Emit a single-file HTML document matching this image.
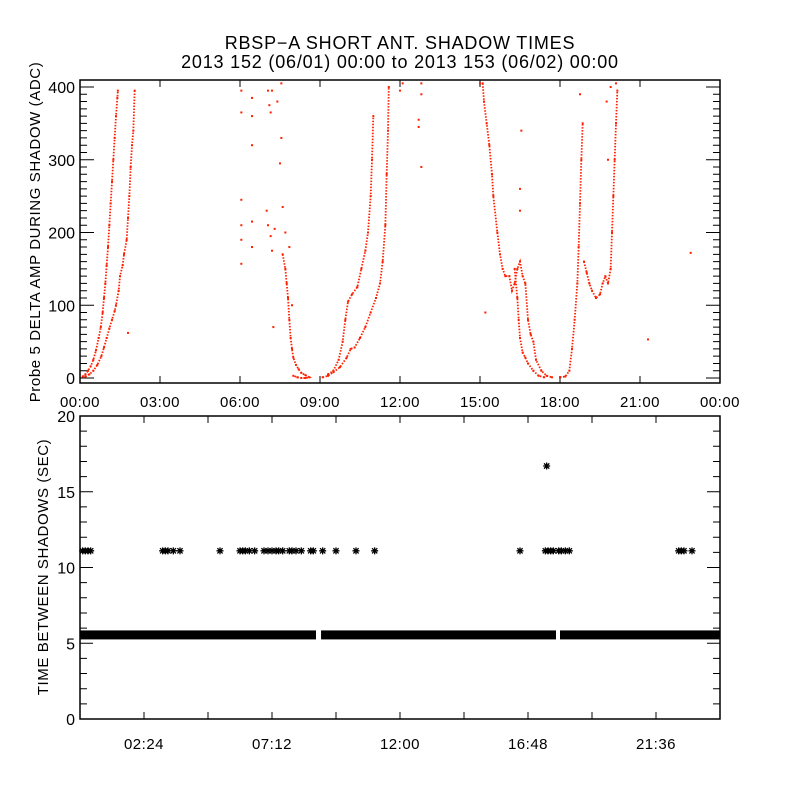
<!DOCTYPE html>
<html><head><meta charset="utf-8"><style>
html,body{margin:0;padding:0;background:#fff;}
svg{display:block;font-family:"Liberation Sans",sans-serif;}
</style></head><body>
<svg id="c" width="800" height="800" viewBox="0 0 800 800">
<rect width="800" height="800" fill="#fff"/>
<text x="400" y="49" font-size="18" letter-spacing="0.8" text-anchor="middle">RBSP−A SHORT ANT. SHADOW TIMES</text>
<text x="400" y="68" font-size="18" letter-spacing="0.8" text-anchor="middle">2013 152 (06/01) 00:00 to 2013 153 (06/02) 00:00</text>
<text transform="translate(40,232) rotate(-90)" font-size="15" letter-spacing="0.6" text-anchor="middle">Probe 5 DELTA AMP DURING SHADOW (ADC)</text>
<text transform="translate(48,567) rotate(-90)" font-size="15" letter-spacing="0.6" text-anchor="middle">TIME BETWEEN SHADOWS (SEC)</text>
<g id="topPanel"></g>
<g id="botPanel"></g>
</svg>
<script>
// ---- top chart data (hours, ADC) ----
const curveAHours=[0.1,0.2,0.3,0.4,0.5,0.6,0.7,0.78,0.85,0.9,0.95,1.0,1.05,1.1,1.15,1.2,1.25,1.3,1.35,1.4,1.42];
const curveAVals=[2,5,10,16,25,38,55,70,90,110,130,155,180,210,240,270,300,330,360,385,395];
const curveBHours=[0.2,0.35,0.5,0.65,0.8,0.9,1.0,1.1,1.2,1.3,1.35,1.45,1.5,1.6,1.65,1.75,1.8,1.85,1.9,1.95,2.0,2.05];
const curveBVals=[2,5,10,18,30,42,55,68,80,92,100,120,140,155,170,190,220,250,290,320,340,395];
const curveCHours=[7.6,7.7,7.75,7.8,7.85,7.9,7.95,8.0,8.1,8.2,8.3,8.45,8.6,8.45,8.3,8.15,8.0];
const curveCVals=[170,150,130,110,80,55,40,28,18,12,7,4,1,0,0,1,3];
const curveDHours=[9.1,9.3,9.5,9.75,10.0,10.15,10.3,10.5,10.7,10.9,11.1,11.25,11.35,11.45,11.5,11.55,11.58];
const curveDVals=[1,3,8,15,28,40,42,55,70,90,110,130,160,210,280,340,400];
const curveEHours=[9.3,9.5,9.7,9.85,9.95,10.05,10.2,10.4,10.55,10.7,10.8,10.9,10.95,11.0];
const curveEVals=[5,10,25,50,80,105,115,125,150,175,200,250,300,360];
const curveFHours=[15.1,15.15,15.25,15.35,15.45,15.5,15.65,15.75,15.85,15.95,16.1,16.2,16.3,16.4,16.5,16.6,16.7,16.8,16.9,17.0,17.1,17.3,17.5,17.7];
const curveFVals=[405,380,350,320,280,250,200,170,150,140,140,120,130,150,160,140,130,80,60,50,25,10,3,1];
const curveGHours=[16.3,16.4,16.45,16.5,16.6,16.7,16.8,17.0,17.2,17.4];
const curveGVals=[150,110,80,55,35,28,20,10,3,1];
const curveHHours=[18.0,18.2,18.35,18.45,18.55,18.65,18.7,18.75,18.8,18.85];
const curveHVals=[1,2,10,40,80,130,180,240,300,350];
const curveIHours=[18.9,19.0,19.1,19.2,19.35,19.5,19.6,19.7,19.8,19.9,19.95,20.0,20.05,20.1,20.15];
const curveIVals=[160,145,130,120,110,115,130,140,130,150,200,250,300,350,395];
const strayHours=[6.05,6.05,6.05,6.05,6.05,6.05,6.45,6.45,6.45,6.45,6.45,7.05,7.1,7.15,7.2,7.0,7.05,7.15,7.2,7.3,7.25,7.4,7.55,7.55,7.5,7.6,7.95,12.0,12.1,12.8,12.8,12.7,12.7,12.8,15.2,15.0,16.5,16.5,16.55,18.75,19.75,19.8,20.1,19.9,21.3,22.9,1.8,7.7,7.85];
const strayVals=[395,365,245,210,190,157,385,360,320,215,180,395,375,365,395,230,210,195,175,205,70,380,405,330,295,235,100,395,405,390,405,345,355,290,90,405,260,230,340,390,380,300,405,400,53,172,62,200,180];
const topYTicks=[0,100,200,300,400];
const topXTickHours=[0,3,6,9,12,15,18,21,24];
const topXTickLabels=["00:00","03:00","06:00","09:00","12:00","15:00","18:00","21:00","00:00"];
// ---- bottom chart data ----
const bandStartHours=[0.0,9.04,18.0];
const bandEndHours=[8.85,17.85,24.0];
const bandValue=[5.55,5.55,5.55];
const starHours=[0.1,0.2,0.3,0.4,3.1,3.2,3.3,3.5,3.75,5.25,6.0,6.1,6.2,6.35,6.55,6.9,7.05,7.2,7.35,7.45,7.6,7.85,7.95,8.1,8.3,8.65,8.75,9.1,9.6,10.35,11.05,16.5,17.45,17.55,17.65,17.75,17.95,18.05,18.2,18.35,22.45,22.55,22.65,22.95,17.5];
const starVals=[11.1,11.1,11.1,11.1,11.1,11.1,11.1,11.1,11.1,11.1,11.1,11.1,11.1,11.1,11.1,11.1,11.1,11.1,11.1,11.1,11.1,11.1,11.1,11.1,11.1,11.1,11.1,11.1,11.1,11.1,11.1,11.1,11.1,11.1,11.1,11.1,11.1,11.1,11.1,11.1,11.1,11.1,11.1,11.1,16.7];
const botYTicks=[0,5,10,15,20];
const botXTickHours=[2.4,7.2,12.0,16.8,21.6];
const botXTickLabels=["02:24","07:12","12:00","16:48","21:36"];

const NS="http://www.w3.org/2000/svg";
function mk(parent,tag,attrs){const e=document.createElementNS(NS,tag);for(const k in attrs)e.setAttribute(k,attrs[k]);parent.appendChild(e);return e;}
const L=80,R=720;
const xs=h=>L+h*(R-L)/24;
const ty=v=>378-v*0.7275;
const by=v=>719-v*15.15;
const topG=document.getElementById('topPanel'), botG=document.getElementById('botPanel');

let f=mk(topG,'rect',{x:L,y:80,width:R-L,height:303,fill:'none',stroke:'#000','stroke-width':1.5});


for(let v=0;v<=409;v+=10){
  const major=v%100===0, len=major?14:7, y=ty(v);
  let t=mk(topG,'path',{d:`M${L} ${y}H${L+len}M${R} ${y}H${R-len}`,stroke:'#000','stroke-width':1});
  
  
}
topYTicks.forEach(v=>{
  let t=mk(topG,'text',{x:L-5,y:ty(v)+6,'font-size':16,'text-anchor':'end'});t.textContent=v;
  
  
});
topXTickHours.forEach((h,i)=>{
  const x=xs(h);
  let t=mk(topG,'path',{d:`M${x} 383V376M${x} 80V87`,stroke:'#000','stroke-width':1});
  
  
  let l=mk(topG,'text',{x:x,y:407,'font-size':15,'text-anchor':'middle','letter-spacing':0.5});l.textContent=topXTickLabels[i];
  
  
});
function series(hs,vs,name,line){
  const g=mk(topG,'g',{});
  
  
  if(line){
    const p=mk(g,'polyline',{points:hs.map((h,i)=>xs(h)+','+ty(vs[i])).join(' '),fill:'none',stroke:'#ff2000','stroke-width':1.8,'stroke-dasharray':'1.5 1.5'});
    
    
  }
  hs.forEach((h,i)=>{
    const d=mk(g,'rect',{x:xs(h)-1,y:ty(vs[i])-1,width:2,height:2,fill:'#ff2000'});
    
    
  });
}
series(curveAHours,curveAVals,'curve-a',true);
series(curveBHours,curveBVals,'curve-b',true);
series(curveCHours,curveCVals,'curve-c',true);
series(curveDHours,curveDVals,'curve-d',true);
series(curveEHours,curveEVals,'curve-e',true);
series(curveFHours,curveFVals,'curve-f',true);
series(curveGHours,curveGVals,'curve-g',true);
series(curveHHours,curveHVals,'curve-h',true);
series(curveIHours,curveIVals,'curve-i',true);
series(strayHours,strayVals,'stray-points',false);

f=mk(botG,'rect',{x:L,y:416,width:R-L,height:303,fill:'none',stroke:'#000','stroke-width':1.5});


for(let v=0;v<=20;v+=1){
  const major=v%5===0,len=major?13:7,y=by(v);
  let t=mk(botG,'path',{d:`M${L} ${y}H${L+len}M${R} ${y}H${R-len}`,stroke:'#000','stroke-width':1});
  
  
}
botYTicks.forEach(v=>{
  let t=mk(botG,'text',{x:L-5,y:by(v)+6,'font-size':16,'text-anchor':'end'});t.textContent=v;
  
  
});
for(let k=1;k<10;k++){
  const x=xs(k*2.4);
  let t=mk(botG,'path',{d:`M${x} 719V712M${x} 416V423`,stroke:'#000','stroke-width':1});
  
  
}
botXTickHours.forEach((h,i)=>{
  let l=mk(botG,'text',{x:xs(h),y:749,'font-size':15,'text-anchor':'middle','letter-spacing':0.5});l.textContent=botXTickLabels[i];
  
  
});
bandStartHours.forEach((s,i)=>{
  const b=mk(botG,'rect',{x:xs(s),y:by(bandValue[i])-4.5,width:xs(bandEndHours[i])-xs(s),height:9,fill:'#000'});
  
  
});
starHours.forEach((h,i)=>{
  const x=xs(h),y=by(starVals[i]),r=3.5;
  const s=mk(botG,'path',{d:`M${x-r} ${y}H${x+r}M${x} ${y-r}V${y+r}M${x-r*0.75} ${y-r*0.75}L${x+r*0.75} ${y+r*0.75}M${x-r*0.75} ${y+r*0.75}L${x+r*0.75} ${y-r*0.75}`,stroke:'#000','stroke-width':1.3});
  
  
});
</script>
</body></html>
